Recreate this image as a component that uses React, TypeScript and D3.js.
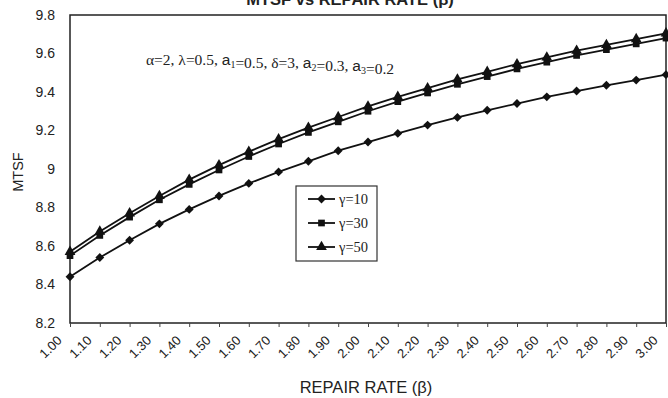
import { useRef, useEffect } from 'react';
import * as d3 from 'd3';

// repair rate categories (x axis)
const rates = ['1.00', '1.10', '1.20', '1.30', '1.40', '1.50', '1.60', '1.70', '1.80', '1.90', '2.00',
  '2.10', '2.20', '2.30', '2.40', '2.50', '2.60', '2.70', '2.80', '2.90', '3.00'];

const mtsfG10 = [8.44, 8.54, 8.63, 8.715, 8.79, 8.86, 8.925, 8.985, 9.04, 9.095, 9.14,
  9.185, 9.228, 9.268, 9.305, 9.34, 9.375, 9.405, 9.435, 9.462, 9.49];
const mtsfG30 = [8.55, 8.655, 8.75, 8.84, 8.92, 8.995, 9.065, 9.13, 9.19, 9.245, 9.30,
  9.35, 9.395, 9.44, 9.48, 9.52, 9.555, 9.59, 9.62, 9.65, 9.68];
const mtsfG50 = [8.57, 8.675, 8.77, 8.86, 8.945, 9.02, 9.09, 9.155, 9.215, 9.27, 9.325,
  9.375, 9.42, 9.465, 9.505, 9.545, 9.58, 9.615, 9.645, 9.675, 9.705];

const yTicks = [8.2, 8.4, 8.6, 8.8, 9, 9.2, 9.4, 9.6, 9.8];
const seriesNames = ['γ=10', 'γ=30', 'γ=50'];

const sans = 'Liberation Sans, Arial, sans-serif';
const serif = 'Liberation Serif, Times New Roman, serif';

const App = () => {
  const svgRef = useRef<SVGSVGElement>(null);

  useEffect(() => {
    const w = 668;
    const h = 398;
    const m = { left: 70, right: 2, top: 15, bottom: 75 };
    const svg = d3.select(svgRef.current).attr('width', w).attr('height', h);
    svg.selectAll('*').remove();

    const x = d3.scalePoint<string>().domain(rates).range([m.left, w - m.right]);
    const y = d3.scaleLinear().domain([8.2, 9.8]).range([h - m.bottom, m.top]);

    // plot frame
    svg.append('rect')
      .attr('x', m.left).attr('y', m.top)
      .attr('width', w - m.right - m.left).attr('height', h - m.bottom - m.top)
      .attr('fill', 'white').attr('stroke', '#222').attr('stroke-width', 1.5);

    // y axis
    const yAxis = d3.axisLeft(y).tickValues(yTicks).tickSize(0).tickPadding(15)
      .tickFormat(d => String(d));
    const gy = svg.append('g').attr('transform', `translate(${m.left},0)`).call(yAxis);
    gy.select('.domain').remove();
    gy.selectAll('text').attr('font-family', sans).attr('font-size', 14).attr('fill', '#222');

    // x axis
    const xAxis = d3.axisBottom(x).tickSize(4).tickPadding(0);
    const gx = svg.append('g').attr('transform', `translate(0,${h - m.bottom})`).call(xAxis);
    gx.select('.domain').remove();
    gx.selectAll('line').attr('stroke', '#444');
    gx.selectAll('text')
      .attr('font-family', sans)
      .attr('font-size', 13).attr('fill', '#222')
      .attr('text-anchor', 'end')
      .attr('y', 0)
      .attr('dy', '0.35em')
      .attr('transform', 'translate(-11,15) rotate(-45)');

    // titles
    svg.append('text').attr('x', 350).attr('y', 5).attr('text-anchor', 'middle')
      .attr('font-family', sans).attr('font-weight', 'bold')
      .attr('font-size', 16.5).attr('fill', '#222').text('MTSF vs REPAIR RATE (β)');
    svg.append('text').attr('x', 366).attr('y', 393).attr('text-anchor', 'middle')
      .attr('font-family', sans)
      .attr('font-size', 16.5).attr('fill', '#222').text('REPAIR RATE (β)');
    svg.append('text').attr('transform', 'translate(23,172) rotate(-90)').attr('text-anchor', 'middle')
      .attr('font-family', sans)
      .attr('font-size', 14.5).attr('fill', '#222').text('MTSF');

    // parameter note
    const note = svg.append('text').attr('x', 146).attr('y', 65)
      .attr('font-family', serif)
      .attr('font-size', 15.5).attr('fill', '#222');
    const parts: [string, string?][] = [['α=2, λ=0.5, '], ['a', '1'], ['=0.5, δ=3, '], ['a', '2'], ['=0.3, '], ['a', '3'], ['=0.2']];
    parts.forEach(([t, sub]) => {
      if (sub) {
        note.append('tspan').attr('font-family', sans).text(t);
        note.append('tspan').attr('font-size', 10).attr('dy', 3).text(sub);
        note.append('tspan').attr('dy', -3).text('');
      } else {
        note.append('tspan').text(t);
      }
    });

    // series
    const series = [mtsfG10, mtsfG30, mtsfG50];
    const symbols = [
      d3.symbol().type(d3.symbolDiamond2).size(50),
      d3.symbol().type(d3.symbolSquare).size(45),
      d3.symbol().type(d3.symbolTriangle).size(50),
    ];
    const line = d3.line<number>().x((_, i) => x(rates[i]) as number).y(d => y(d));

    series.forEach((vals, si) => {
      svg.append('path').datum(vals).attr('d', line)
        .attr('fill', 'none').attr('stroke', '#111').attr('stroke-width', 1.8);
      svg.selectAll(null).data(vals).enter().append('path')
        .attr('d', symbols[si]() as string)
        .attr('transform', (d, i) => `translate(${x(rates[i])},${y(d)})`)
        .attr('fill', '#111');
    });

    // legend
    const lg = svg.append('g');
    lg.append('rect').attr('x', 296).attr('y', 186).attr('width', 81).attr('height', 75)
      .attr('fill', 'white').attr('stroke', '#333').attr('stroke-width', 1.2);
    seriesNames.forEach((name, i) => {
      const ly = 199 + i * 24;
      lg.append('line').attr('x1', 308).attr('x2', 335).attr('y1', ly).attr('y2', ly)
        .attr('stroke', '#111').attr('stroke-width', 1.8);
      lg.append('path').attr('d', symbols[i]() as string)
        .attr('transform', `translate(321.5,${ly})`).attr('fill', '#111');
      lg.append('text').attr('x', 339).attr('y', ly + 5)
        .attr('font-family', serif)
        .attr('font-size', 14.5).attr('fill', '#222').text(name);
    });
  }, []);

  return (
    <div>
      <svg ref={svgRef} style={{ position: 'absolute', left: 0, top: 0 }}></svg>
    </div>
  );
};

export default App;
